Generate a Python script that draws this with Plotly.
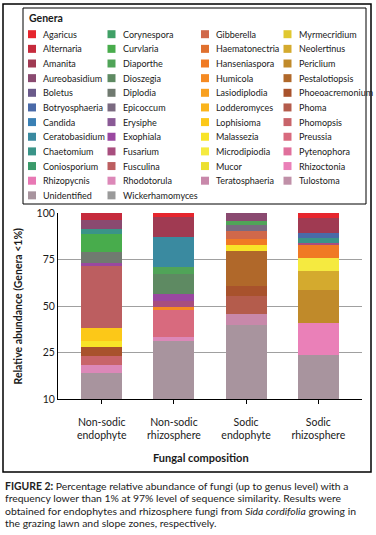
import plotly.graph_objects as go

# ---------------- data ----------------
categories = ["Non-sodic<br>endophyte", "Non-sodic<br>rhizosphere", "Sodic<br>endophyte", "Sodic<br>rhizosphere"]

genera = ["Agaricus", "Alternaria", "Amanita", "Aureobasidium", "Boletus", "Botryosphaeria",
          "Candida", "Ceratobasidium", "Chaetomium", "Coniosporium",
          "Corynespora", "Curvlaria", "Diaporthe", "Dioszegia", "Diplodia", "Epicoccum",
          "Erysiphe", "Exophiala", "Fusarium", "Fusculina",
          "Gibberella", "Haematonectria", "Hanseniaspora", "Humicola", "Lasiodiplodia",
          "Lodderomyces", "Lophisioma", "Malassezia", "Microdipiodia", "Mucor",
          "Myrmecridium", "Neolertinus", "Periclium", "Pestalotiopsis", "Phoeoacremonium",
          "Phoma", "Phomopsis", "Preussia", "Pytenophora", "Rhizoctonia",
          "Rhizopycnis", "Rhodotorula", "Teratosphaeria", "Tulostoma",
          "Unidentified", "Wickerhamomyces"]

colors = ["#e6252d", "#c62a3c", "#a03a52", "#8a4a70", "#6a5a8a", "#4a6aa8",
          "#3a80b4", "#3a8aa0", "#3a9488", "#3a9a6a",
          "#40a066", "#48ac4c", "#50a458", "#5e8a62", "#707a70", "#7a6a80",
          "#8a5a96", "#9a48a0", "#a84e7e", "#bc5e60",
          "#d0684a", "#e0702e", "#f07a24", "#f58a22", "#f8a020",
          "#fab41c", "#fcc818", "#f8e428", "#f5ea40", "#ece030",
          "#e0c830", "#d4aa2e", "#c08a2a", "#b0682a", "#a8522c",
          "#b45c4c", "#c8646a", "#d86a7e", "#e0709c", "#ea80b8",
          "#e878b4", "#dc88b8", "#c888aa", "#c090a8",
          "#a8949e", "#9a9a9a"]

# segment heights (relative abundance) per sample
nonsodic_endophyte = {"Unidentified": 14.0, "Rhodotorula": 4.3, "Phomopsis": 4.9,
                      "Phoeoacremonium": 4.8, "Malassezia": 3.2, "Lophisioma": 7.0,
                      "Fusculina": 33.4, "Exophiala": 1.6, "Diplodia": 5.9,
                      "Curvlaria": 9.7, "Chaetomium": 2.7, "Aureobasidium": 4.8,
                      "Alternaria": 3.7}
nonsodic_rhizosphere = {"Unidentified": 31.4, "Rhodotorula": 2.0, "Preussia": 14.6,
                        "Humicola": 1.6, "Fusarium": 3.2, "Exophiala": 3.8,
                        "Dioszegia": 10.8, "Diaporthe": 3.8, "Ceratobasidium": 15.8,
                        "Amanita": 11.0, "Agaricus": 2.0}
sodic_endophyte = {"Unidentified": 39.8, "Teratosphaeria": 5.9, "Phoma": 9.7,
                   "Phoeoacremonium": 5.4, "Pestalotiopsis": 18.8, "Malassezia": 3.2,
                   "Hanseniaspora": 3.2, "Gibberella": 4.3, "Epicoccum": 3.2,
                   "Diaporthe": 2.2, "Aureobasidium": 4.3}
sodic_rhizosphere = {"Unidentified": 23.7, "Rhizoctonia": 17.3, "Periclium": 17.6,
                     "Neolertinus": 10.2, "Microdipiodia": 7.2, "Hanseniaspora": 6.8,
                     "Fusarium": 1.0, "Chaetomium": 2.8, "Botryosphaeria": 2.5,
                     "Amanita": 8.1, "Agaricus": 2.8}

samples = [nonsodic_endophyte, nonsodic_rhizosphere, sodic_endophyte, sodic_rhizosphere]

y_tickvals = [0, 25, 50, 75, 100]
y_ticktext = ["10", "25", "50", "75", "100"]

FONT = "Lato"

# ---------------- figure ----------------
fig = go.Figure()
# stacking: reverse legend order (Unidentified at the bottom)
for g, c in reversed(list(zip(genera, colors))):
    fig.add_trace(go.Bar(
        x=categories, y=[s.get(g, 0) for s in samples], name=g,
        marker=dict(color=c, line=dict(width=0)), showlegend=False))

L, R, T, B = 58, 362, 213, 399
W, H = 376, 535


def px(x):
    return (x - L) / (R - L)


def py(y):
    return (B - y) / (B - T)


shapes = []
annotations = []

# outer frame and legend box
shapes.append(dict(type="rect", xref="paper", yref="paper", x0=px(3), x1=px(371),
                   y0=py(472), y1=py(4), line=dict(color="black", width=1.5)))
shapes.append(dict(type="rect", xref="paper", yref="paper", x0=px(23), x1=px(366),
                   y0=py(204), y1=py(8), line=dict(color="black", width=1)))

annotations.append(dict(text="<b>Genera</b>", xref="paper", yref="paper", x=px(27), y=py(18),
                        xanchor="left", yanchor="middle", showarrow=False,
                        font=dict(family=FONT, size=10.5, color="#1a1a1a")))

col_sw = [28, 107.5, 201, 283.5]
col_tx = [40.5, 120.5, 214, 296.5]
for i, (g, c) in enumerate(zip(genera, colors)):
    if i < 40:
        col, row = i // 10, i % 10
    else:
        j = i - 40
        row, col = 10 + j // 4, j % 4
    yc = 34.2 + row * 14.65
    shapes.append(dict(type="rect", xref="paper", yref="paper",
                       x0=px(col_sw[col]), x1=px(col_sw[col] + 8),
                       y0=py(yc + 4), y1=py(yc - 4), fillcolor=c, line=dict(width=0)))
    annotations.append(dict(text=g, xref="paper", yref="paper", x=px(col_tx[col]), y=py(yc),
                            xanchor="left", yanchor="middle", showarrow=False,
                            font=dict(family=FONT, size=9, color="#1a1a1a")))

# axis titles
annotations.append(dict(text="<b>Relative abundance (Genera &lt;1%)</b>", xref="paper", yref="paper",
                        x=px(17.5), y=py(306), textangle=-90, showarrow=False,
                        xanchor="center", yanchor="middle",
                        font=dict(family=FONT, size=10.5, color="#1a1a1a")))
annotations.append(dict(text="<b>Fungal composition</b>", xref="paper", yref="paper",
                        x=px(201), y=py(457), showarrow=False,
                        xanchor="center", yanchor="middle",
                        font=dict(family=FONT, size=11, color="#1a1a1a")))

# caption
caption = ["<b>FIGURE 2:</b> Percentage relative abundance of fungi (up to genus level) with a",
           "frequency lower than 1% at 97% level of sequence similarity. Results were",
           "obtained for endophytes and rhizosphere fungi from <i>Sida cordifolia</i> growing in",
           "the grazing lawn and slope zones, respectively."]
for k, line in enumerate(caption):
    annotations.append(dict(text=line, xref="paper", yref="paper", x=px(3), y=py(485.5 + k * 12.5),
                            xanchor="left", yanchor="middle", showarrow=False,
                            font=dict(family=FONT, size=10.4, color="#222222")))

fig.update_layout(
    width=W, height=H, barmode="stack", bargap=0.43,
    margin=dict(l=L, r=W - R, t=T, b=H - B, pad=0),
    paper_bgcolor="white", plot_bgcolor="white",
    font=dict(family=FONT, color="#1a1a1a"),
    shapes=shapes, annotations=annotations,
    xaxis=dict(range=[-0.605, 3.605], showline=True, linecolor="black", linewidth=1,
               ticks="outside", ticklen=4, tickcolor="black", showgrid=False,
               ticklabelstandoff=9,
               tickfont=dict(family=FONT, size=10.5, color="#1a1a1a"), fixedrange=True),
    yaxis=dict(range=[0, 100], tickvals=y_tickvals, ticktext=y_ticktext,
               showline=True, linecolor="black", linewidth=1, ticks="",
               showgrid=True, gridcolor="#a0a0a0", gridwidth=1, zeroline=False,
               tickfont=dict(family=FONT, size=10.5, color="#1a1a1a"), fixedrange=True),
)

fig.write_html("out.html", config={"displayModeBar": False},
               post_script="document.body.style.margin='0';document.body.style.overflow='hidden';")
